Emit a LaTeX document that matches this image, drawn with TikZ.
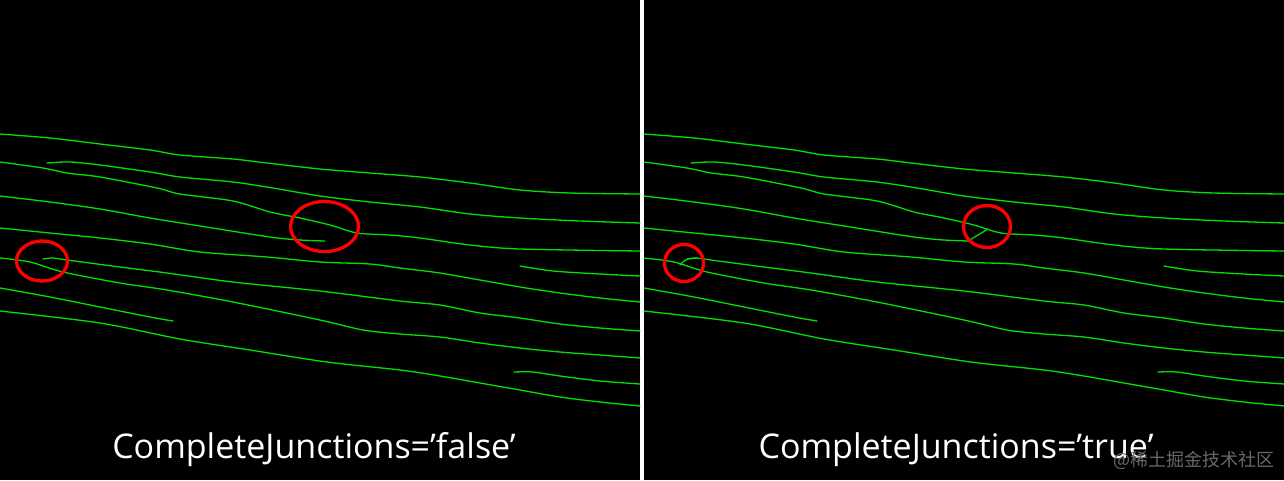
\documentclass[tikz,border=0pt]{standalone}
\usepackage{fontspec}
\setmainfont{Open Sans}
\newfontfamily\cjkfont{Noto Sans CJK SC}
\definecolor{ridgegreen}{RGB}{0,225,0}
\definecolor{hired}{RGB}{255,0,0}
\definecolor{wmgray}{RGB}{105,105,105}
\newcommand\ridgelines{%
  \draw[ridge] plot[smooth,tension=0.5] coordinates {(0,134) (50,138) (100,144) (150,150) (180,155) (233,159) (267,163) (320,169) (370,173) (420,177) (470,183) (520,190) (570,193) (640,194)};
  \draw[ridge] plot[smooth,tension=0.5] coordinates {(47,163) (70,162) (100,165) (150,172) (180,177) (233,182) (273,188) (320,196) (370,202) (420,207) (470,214) (520,218) (580,221) (640,223)};
  \draw[ridge] plot[smooth,tension=0.5] coordinates {(0,162) (43,168) (67,173) (100,177) (157,188) (180,194) (233,201) (270,212) (300,218) (330,225) (357,233) (390,235) (420,238) (470,245) (520,249) (640,251)};
  \draw[ridge] plot[smooth,tension=0.5] coordinates {(0,196) (50,202) (100,209) (150,218) (200,226) (270,237) (300,240) (325,241)};
  \draw[ridge] plot[smooth,tension=0.5] coordinates {(0,228) (50,233) (100,238) (150,244) (200,252) (267,257) (320,262) (370,264) (400,268) (440,273) (480,280) (520,287) (560,293) (600,298) (640,302)};
  \draw[ridge] plot[smooth,tension=0.5] coordinates {(43,259) (53,258) (67,260) (120,267) (167,273) (233,282) (320,291) (400,301) (440,305) (480,313) (520,318) (560,324) (600,328) (640,331)};
  \draw[ridge] plot[smooth,tension=0.5] coordinates {(0,258) (30,262) (63,272) (120,283) (167,290) (233,302) (320,320) (363,330) (400,334) (440,337) (480,343) (520,348) (560,352) (600,355) (640,358)};
  \draw[ridge] plot[smooth,tension=0.5] coordinates {(0,288) (50,297) (100,307) (150,317) (173,321)};
  \draw[ridge] plot[smooth,tension=0.5] coordinates {(0,311) (100,323) (180,339) (250,350) (327,362) (400,370) (440,376) (480,383) (520,390) (560,397) (600,402) (640,406)};
  \draw[ridge] plot[smooth,tension=0.5] coordinates {(520,266) (553,271) (600,274) (640,276)};
  \draw[ridge] plot[smooth,tension=0.5] coordinates {(514,372) (533,372) (560,376) (600,381) (640,384)};
}
\begin{document}
\begin{tikzpicture}[x=1pt,y=-1pt,
  ridge/.style={draw=ridgegreen, line width=1.3pt, line cap=round, line join=round},
  hilite/.style={draw=hired, line width=3.3pt},
  caption/.style={text=white, font=\fontsize{34}{40}\selectfont, anchor=base, inner sep=0pt},
  wmark/.style={text=wmgray, font=\cjkfont\fontsize{18}{20}\selectfont, anchor=base east, inner sep=0pt}]
\useasboundingbox (0,0) rectangle (1284,480);
\fill[black] (0,0) rectangle (1284,480);
\fill[white] (640,0) rectangle (644,480);
% left panel
\ridgelines
\draw[hilite] (42,261) ellipse [x radius=25.5, y radius=20];
\draw[hilite] (324.5,226.5) ellipse [x radius=34, y radius=25];
% right panel
\begin{scope}[xshift=644pt]
  \ridgelines
  \draw[ridge] (324,241) -- (344,229);
  \draw[ridge] plot[smooth,tension=0.5] coordinates {(36,265) (40,261) (44,259) (53,258)};
\end{scope}
\draw[hilite] (684,263) ellipse [x radius=19.5, y radius=18.5];
\draw[hilite] (987,226.5) ellipse [x radius=23.5, y radius=21];
\node[caption] (capfalse) at (314,458) {CompleteJunctions=’false’};
\node[caption] (captrue) at (956,458) {CompleteJunctions=’true’};
\node[wmark] (watermark) at (1275,466) {@稀土掘金技术社区};
\end{tikzpicture}
\end{document}
